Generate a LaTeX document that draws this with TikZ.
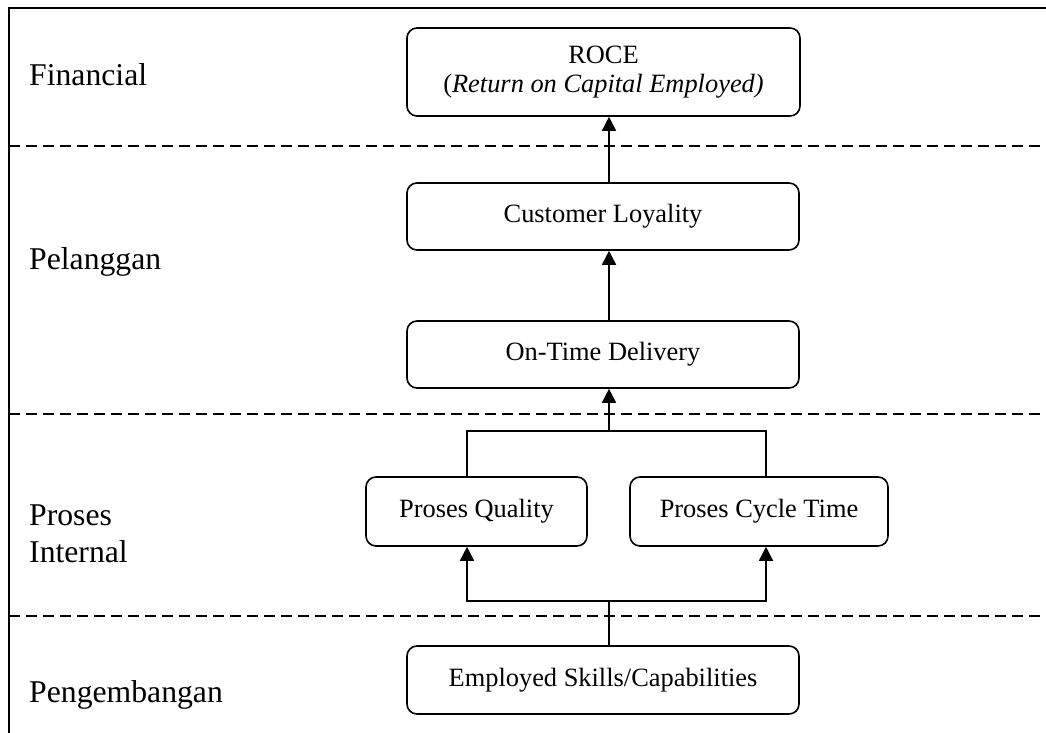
\documentclass[tikz,border=0pt]{standalone}
\usepackage{fontspec}
\setmainfont{Liberation Serif}
\usetikzlibrary{arrows.meta}

\begin{document}
\begin{tikzpicture}[x=1pt,y=-1pt,
  stagebox/.style={draw, line width=1.6pt, rounded corners=10pt, inner sep=0pt,
    align=center, font=\fontsize{26.4}{29}\selectfont},
  perspective/.style={anchor=base west, inner sep=0pt, font=\fontsize{31.7}{37}\selectfont},
  link/.style={line width=1.6pt},
  uplink/.style={link, -{Triangle[width=14pt,length=14pt]}},
  divider/.style={line width=1.6pt, dash pattern=on 11pt off 6pt}]

\useasboundingbox (0,0) rectangle (1046,733);

% frame (top and left edges)
\draw[line width=2.2pt] (1046,8) -- (9,8) -- (9,733);

% perspective dividers
\draw[divider] (9,146) -- (1046,146);
\draw[divider] (9,414) -- (1046,414);
\draw[divider] (9,616) -- (1046,616);

% perspective names
\node[perspective] (fin)   at (29,86)  {Financial};
\node[perspective] (pel)   at (29,269) {Pelanggan};
\node[perspective] (pro)   at (29,525) {Proses};
\node[perspective] (inter) at (29,562) {Internal};
\node[perspective] (peng)  at (29,702) {Pengembangan};

% objectives
\node[stagebox, minimum width=393pt, minimum height=88pt] (roce) at (603.5,72)
  {ROCE\\(\textit{Return on Capital Employed)}};
\node[stagebox, minimum width=392pt, minimum height=67pt] (cl)  at (603,216.5) {Customer Loyality};
\node[stagebox, minimum width=392pt, minimum height=67pt] (otd) at (603,354.5) {On-Time Delivery};
\node[stagebox, minimum width=221pt, minimum height=69pt] (pq)  at (476.5,511.5) {Proses Quality};
\node[stagebox, minimum width=258pt, minimum height=69pt] (pct) at (759,511.5) {Proses Cycle Time};
\node[stagebox, minimum width=392pt, minimum height=68pt] (esc) at (603,680) {Employed Skills/Capabilities};

% connector guides
\coordinate (spine) at (609,0);
\coordinate (qx) at (467,0);
\coordinate (cx) at (766,0);
\coordinate (jtop) at (609,431);
\coordinate (jbot) at (609,601);

% cause-effect links
\draw[uplink] (cl.north -| spine) -- (roce.south -| spine);
\draw[uplink] (otd.north -| spine) -- (cl.south -| spine);
\draw[link] (qx |- pq.north) -- (qx |- jtop) -- (cx |- jtop) -- (cx |- pct.north);
\draw[uplink] (jtop) -- (otd.south -| spine);
\draw[link] (esc.north -| spine) -- (jbot);
\draw[uplink] (jbot) -| (pq.south -| qx);
\draw[uplink] (jbot) -| (pct.south -| cx);
\end{tikzpicture}
\end{document}
